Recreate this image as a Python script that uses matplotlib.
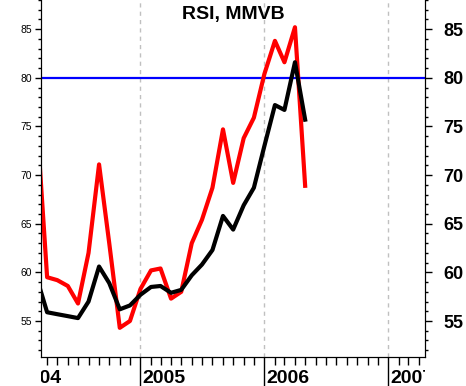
import matplotlib
matplotlib.use('Agg')
import matplotlib.pyplot as plt
import matplotlib.dates as mdates
from matplotlib.ticker import MultipleLocator
from matplotlib.transforms import Bbox, TransformedBbox, blended_transform_factory, offset_copy
import pandas as pd

plt.rcParams['font.family'] = ['Liberation Sans', 'DejaVu Sans']

# monthly RSI readings
months = ['2004-03', '2004-04', '2004-05', '2004-06', '2004-07', '2004-08',
          '2004-09', '2004-10', '2004-11', '2004-12', '2005-01', '2005-02',
          '2005-03', '2005-04', '2005-05', '2005-06', '2005-07', '2005-08',
          '2005-09', '2005-10', '2005-11', '2005-12', '2006-01', '2006-02',
          '2006-03', '2006-04', '2006-05']
rsi_red = [76.0, 59.5, 59.2, 58.6, 56.8, 62.0, 71.1, 63.0, 54.3, 55.0, 58.3, 60.2,
           60.4, 57.3, 58.0, 63.0, 65.4, 68.7, 74.7, 69.2, 73.8, 75.9, 80.4, 83.8,
           81.6, 85.2, 68.9]
rsi_black = [59.5, 55.9, 55.7, 55.5, 55.3, 57.0, 60.6, 58.9, 56.2, 56.6, 57.7, 58.5,
             58.6, 57.9, 58.2, 59.7, 60.8, 62.3, 65.8, 64.4, 66.9, 68.7, 73.0, 77.2,
             76.7, 81.6, 75.7]
level = 80
yticks = [55, 60, 65, 70, 75, 80, 85]
year_labels = ['2004', '2005', '2006', '2007']

fig = plt.figure(figsize=(4.66, 3.86), dpi=100)
ax = fig.add_axes([41 / 466, 29 / 386, 384 / 466, 357 / 386])

x = pd.to_datetime(months)
ax.axhline(level, color='#0000ff', lw=1.6, zorder=2)
ax.plot(x, rsi_red, color='#ff0000', lw=3, zorder=3)
ax.plot(x, rsi_black, color='black', lw=3, zorder=4)

ax.set_xlim(pd.Timestamp('2004-03-14'), pd.Timestamp('2007-04-19'))
ax.set_ylim(51.3, 88.0)

# x axis: long year ticks, short month ticks, dashed year grid
ax.xaxis.set_major_locator(mdates.YearLocator())
ax.xaxis.set_minor_locator(mdates.MonthLocator())
ax.tick_params(axis='x', which='major', length=21, width=1, labelbottom=False)
ax.tick_params(axis='x', which='minor', length=5.4, width=1)
ax.grid(axis='x', which='major', color='#c0c0c0', ls=(0, (3, 3)), lw=1)

# left y axis, small labels
ax.yaxis.set_major_locator(MultipleLocator(5))
ax.yaxis.set_minor_locator(MultipleLocator(1))
ax.set_yticks(yticks, labels=[str(v) for v in yticks], fontsize=7.5)
ax.tick_params(axis='y', which='major', length=4.5, width=1, pad=2)
ax.tick_params(axis='y', which='minor', length=2.2, width=1)
ax.spines['top'].set_visible(False)

# right y axis, big bold labels
ax2 = ax.twinx()
ax2.set_ylim(51.3, 88.0)
ax2.yaxis.set_minor_locator(MultipleLocator(1))
ax2.set_yticks(yticks, labels=[str(v) for v in yticks], fontsize=13, fontweight='bold')
ax2.tick_params(axis='y', which='major', length=5, width=1, pad=8)
ax2.tick_params(axis='y', which='minor', length=2.2, width=1)
ax2.spines['top'].set_visible(False)

# year labels to the right of each year tick, clipped to the plot width
trans = blended_transform_factory(ax.transData, fig.transFigure)
trans = offset_copy(trans, fig=fig, x=2, y=0, units='dots')
clip = TransformedBbox(Bbox([[41 / 466, 0], [425 / 466, 1]]), fig.transFigure)
for lab in year_labels:
    t = fig.text(mdates.date2num(pd.Timestamp(lab + '-01-01')), 3 / 386, lab,
                 transform=trans, ha='left', va='baseline',
                 fontsize=14, fontweight='bold')
    t.set_clip_box(clip)
    t.set_clip_on(True)

ax.text(0.5, 1 - 15 / 357, 'RSI, MMVB', transform=ax.transAxes,
        ha='center', va='center', fontsize=14, fontweight='bold')

fig.savefig('out.png', dpi=100)
